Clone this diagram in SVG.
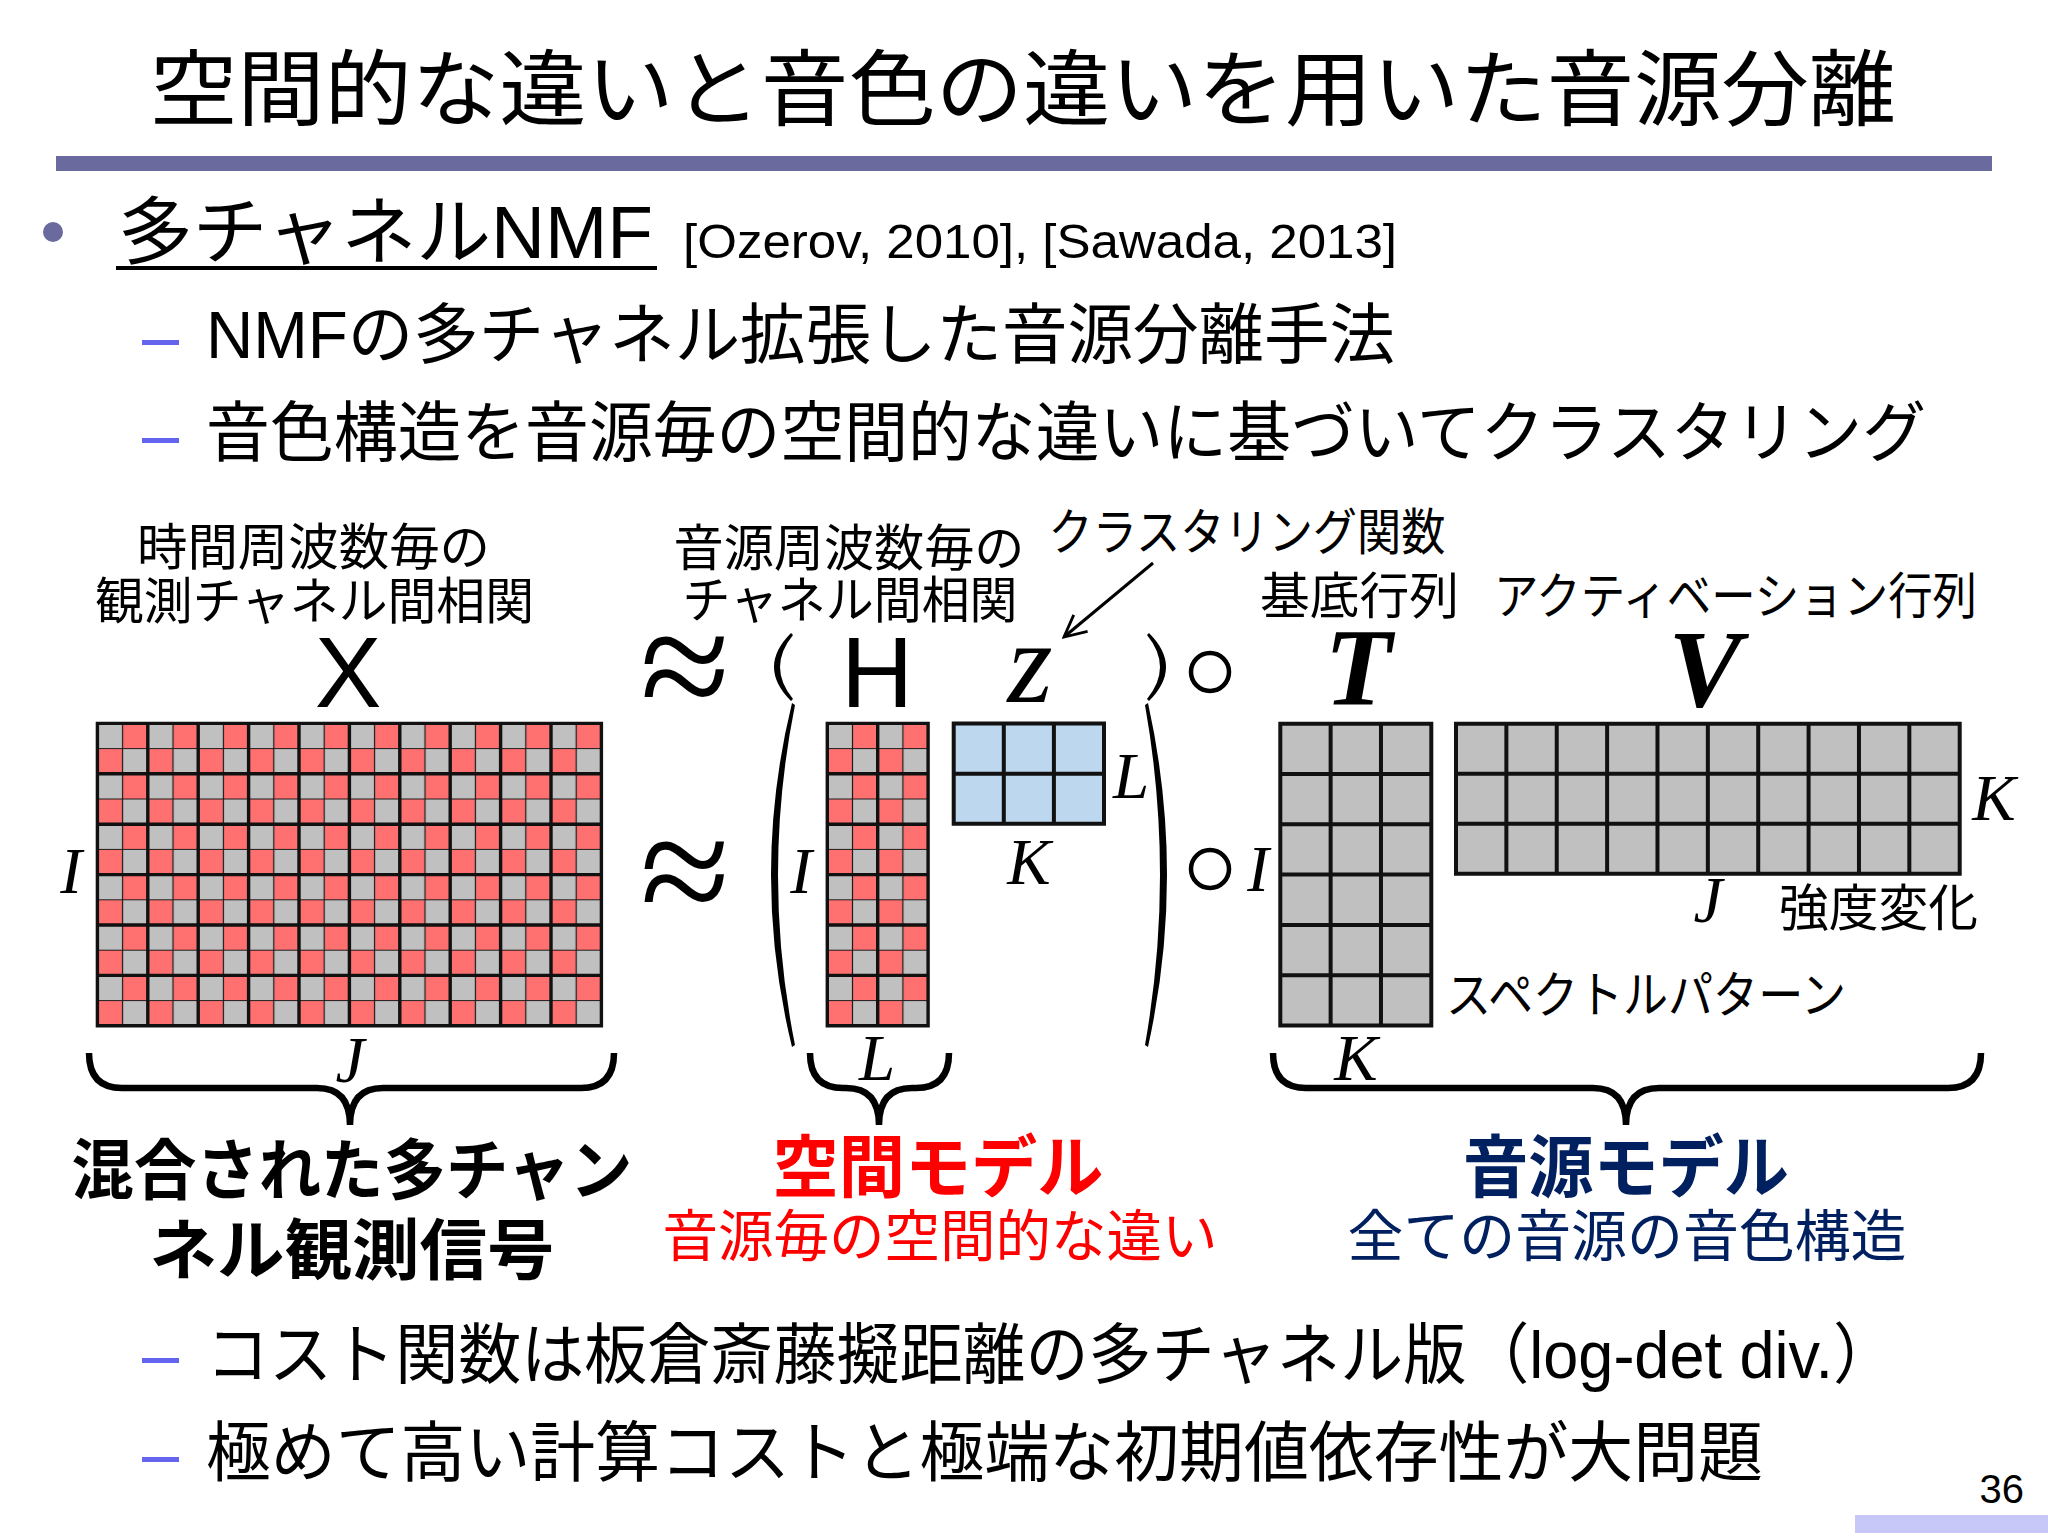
<svg xmlns="http://www.w3.org/2000/svg" width="2048" height="1536" viewBox="0 0 2048 1536">
<style>
.jp{font-family:"Noto Sans CJK JP",sans-serif;fill:#000}
.mix{font-family:"Liberation Sans","Noto Sans CJK JP",sans-serif;fill:#000}
.lbl{font-family:"Noto Sans CJK JP",sans-serif;font-size:50px;fill:#000}
.math{font-family:"Liberation Serif",serif;font-style:italic;font-size:65px;fill:#000}
.bigm{font-family:"Liberation Serif",serif;font-style:italic;font-weight:bold;font-size:110px;fill:#000}
.bigs{font-family:"Liberation Sans",sans-serif;font-size:100px;fill:#000}
.dash{fill:#6464ee}
.thick{fill:none;stroke:#111;stroke-width:3.4;stroke-linecap:square}
.grid{fill:none;stroke:#111;stroke-width:4;stroke-linecap:square}
.brace{fill:none;stroke:#000;stroke-width:6.5}
.paren{fill:#000}
</style>
<defs>
<pattern id="chk" width="50.4" height="50.4" patternUnits="userSpaceOnUse">
<rect width="50.4" height="50.4" fill="#ff7070"/>
<rect width="25.2" height="25.2" fill="#c0c0c0"/>
<rect x="25.2" y="25.2" width="25.2" height="25.2" fill="#c0c0c0"/>
<path d="M25.2,0V50.4M0,25.2H50.4" stroke="#1a1a1a" stroke-width="1.2"/>
</pattern>
<marker id="arrow" viewBox="0 0 12 12" refX="11" refY="6" markerWidth="26" markerHeight="26" markerUnits="userSpaceOnUse" orient="auto">
<path d="M1,1 L11,6 L1,11" fill="none" stroke="#000" stroke-width="1.3"/>
</marker>
</defs>
<rect width="2048" height="1536" fill="#fff"/>

<g id="title">
<text class="jp" x="150" y="119" font-size="83" textLength="1746" lengthAdjust="spacingAndGlyphs">空間的な違いと音色の違いを用いた音源分離</text>
<rect x="56" y="156" width="1936" height="15" fill="#6a6a9e"/>
</g>

<g id="bullets">
<circle cx="53" cy="232" r="10" fill="#6a6a9e"/>
<text class="mix" x="118" y="258" font-size="74" textLength="535" lengthAdjust="spacingAndGlyphs">多チャネルNMF</text>
<rect x="116" y="266" width="541" height="4" fill="#000"/>
<text class="mix" x="683" y="258" font-size="48" textLength="714" lengthAdjust="spacingAndGlyphs">[Ozerov, 2010], [Sawada, 2013]</text>
<rect class="dash" x="142" y="340" width="37" height="5"/>
<text class="mix" x="206" y="358" font-size="66" textLength="1189" lengthAdjust="spacingAndGlyphs">NMFの多チャネル拡張した音源分離手法</text>
<rect class="dash" x="142" y="438" width="37" height="5"/>
<text class="jp" x="206" y="456" font-size="66" textLength="1720" lengthAdjust="spacingAndGlyphs">音色構造を音源毎の空間的な違いに基づいてクラスタリング</text>
<rect class="dash" x="142" y="1358" width="37" height="5"/>
<text class="mix" x="206" y="1378" font-size="66" textLength="1690" lengthAdjust="spacingAndGlyphs">コスト関数は板倉斎藤擬距離の多チャネル版（log-det div.）</text>
<rect class="dash" x="142" y="1457" width="37" height="5"/>
<text class="jp" x="206" y="1476" font-size="66" textLength="1557" lengthAdjust="spacingAndGlyphs">極めて高い計算コストと極端な初期値依存性が大問題</text>
</g>

<g id="node-X">
<text class="lbl" x="313.5" y="565" text-anchor="middle" textLength="353" lengthAdjust="spacingAndGlyphs">時間周波数毎の</text>
<text class="lbl" x="314.5" y="619" text-anchor="middle" textLength="439" lengthAdjust="spacingAndGlyphs">観測チャネル間相関</text>
<text class="bigs" x="348" y="707" text-anchor="middle">X</text>
<g transform="translate(97.4,723.4)">
<rect width="504" height="302.4" fill="url(#chk)"/>
<path class="thick" d="M0,0V302.4M50.4,0V302.4M100.8,0V302.4M151.2,0V302.4M201.6,0V302.4M252,0V302.4M302.4,0V302.4M352.8,0V302.4M403.2,0V302.4M453.6,0V302.4M504,0V302.4M0,0H504M0,50.4H504M0,100.8H504M0,151.2H504M0,201.6H504M0,252H504M0,302.4H504"/>
</g>
<text class="math" x="71" y="893" text-anchor="middle">I</text>
<text class="math" x="350" y="1082" text-anchor="middle">J</text>
</g>

<g id="node-H">
<text class="lbl" x="849" y="566" text-anchor="middle" textLength="351" lengthAdjust="spacingAndGlyphs">音源周波数毎の</text>
<text class="lbl" x="850" y="618" text-anchor="middle" textLength="335" lengthAdjust="spacingAndGlyphs">チャネル間相関</text>
<text class="bigs" x="877" y="707" text-anchor="middle">H</text>
<g transform="translate(827.3,723.4)">
<rect width="100.8" height="302.4" fill="url(#chk)"/>
<path class="thick" d="M0,0V302.4M50.4,0V302.4M100.8,0V302.4M0,0H100.8M0,50.4H100.8M0,100.8H100.8M0,151.2H100.8M0,201.6H100.8M0,252H100.8M0,302.4H100.8"/>
</g>
<text class="math" x="801" y="893" text-anchor="middle">I</text>
<text class="math" x="877" y="1080" text-anchor="middle">L</text>
</g>

<g id="node-z">
<text class="lbl" x="1247" y="550" text-anchor="middle" font-size="46" textLength="397" lengthAdjust="spacingAndGlyphs">クラスタリング関数</text>
<text x="1030" y="702" text-anchor="middle" font-family="Liberation Serif, serif" font-style="italic" font-size="116">z</text>
<g transform="translate(953.7,723.5)">
<rect width="150.3" height="100.3" fill="#bdd7ee"/>
<path class="grid" d="M0,0V100.3M50.1,0V100.3M100.2,0V100.3M150.3,0V100.3M0,0H150.3M0,50.15H150.3M0,100.3H150.3"/>
</g>
<text class="math" x="1131" y="798" text-anchor="middle">L</text>
<text class="math" x="1029" y="884" text-anchor="middle">K</text>
</g>

<g id="operators">
<text x="685" y="721" text-anchor="middle" font-family="Liberation Serif, serif" font-size="164">≈</text>
<text x="685" y="926" text-anchor="middle" font-family="Liberation Serif, serif" font-size="164">≈</text>
<path class="paren" d="M791,633 Q757,667 791,701 L793,699 Q767,667 793,635 Z"/>
<path class="paren" d="M792,703 Q750,875 792,1047 L795,1045 Q761,875 795,705 Z"/>
<path class="paren" d="M1149,633 Q1183,667 1149,701 L1147,699 Q1173,667 1147,635 Z"/>
<path class="paren" d="M1148,703 Q1186,875 1148,1047 L1145,1045 Q1175,875 1145,705 Z"/>
<circle cx="1210" cy="672" r="19" fill="none" stroke="#000" stroke-width="4.5"/>
<circle cx="1210" cy="869" r="19" fill="none" stroke="#000" stroke-width="4.5"/>
<text class="math" x="1258" y="891" text-anchor="middle">I</text>
</g>

<g id="node-T">
<text class="lbl" x="1359.5" y="614" text-anchor="middle" textLength="199" lengthAdjust="spacingAndGlyphs">基底行列</text>
<text class="bigm" x="1358" y="705" text-anchor="middle">T</text>
<g transform="translate(1280.3,723.7)">
<rect width="151" height="301.8" fill="#c0c0c0"/>
<path class="grid" d="M0,0V301.8M50.33,0V301.8M100.67,0V301.8M151,0V301.8M0,0H151M0,50.3H151M0,100.6H151M0,150.9H151M0,201.2H151M0,251.5H151M0,301.8H151"/>
</g>
<text class="math" x="1356" y="1080" text-anchor="middle">K</text>
<text class="lbl" x="1446" y="1013" textLength="400" lengthAdjust="spacingAndGlyphs">スペクトルパターン</text>
</g>

<g id="node-V">
<text class="lbl" x="1735.5" y="614" text-anchor="middle" textLength="483" lengthAdjust="spacingAndGlyphs">アクティベーション行列</text>
<text class="bigm" x="1705" y="706" text-anchor="middle">V</text>
<g transform="translate(1456,723.7)">
<rect width="503.7" height="150" fill="#c0c0c0"/>
<path class="grid" d="M0,0V150M50.37,0V150M100.74,0V150M151.11,0V150M201.48,0V150M251.85,0V150M302.22,0V150M352.59,0V150M402.96,0V150M453.33,0V150M503.7,0V150M0,0H503.7M0,50H503.7M0,100H503.7M0,150H503.7"/>
</g>
<text class="math" x="1994" y="820" text-anchor="middle">K</text>
<text class="math" x="1708" y="922" text-anchor="middle">J</text>
<text class="lbl" x="1878.5" y="926" text-anchor="middle" textLength="199" lengthAdjust="spacingAndGlyphs">強度変化</text>
</g>

<g id="connectors">
<line x1="1153" y1="563" x2="1064" y2="637" stroke="#000" stroke-width="3" marker-end="url(#arrow)"/>
<path class="brace" d="M89,1053 Q89,1088 122,1088 H317 Q350,1088 350,1125 Q350,1088 383,1088 H581 Q614,1088 614,1053"/>
<path class="brace" d="M810,1053 Q810,1088 843,1088 H846 Q879,1088 879,1125 Q879,1088 912,1088 H916 Q949,1088 949,1053"/>
<path class="brace" d="M1273,1053 Q1273,1088 1306,1088 H1593 Q1626,1088 1626,1125 Q1626,1088 1659,1088 H1948 Q1981,1088 1981,1053"/>
</g>

<g id="node-mixture">
<text class="jp" x="352" y="1194" text-anchor="middle" font-size="66" font-weight="bold" textLength="561" lengthAdjust="spacingAndGlyphs">混合された多チャン</text>
<text class="jp" x="352" y="1274" text-anchor="middle" font-size="66" font-weight="bold" textLength="405" lengthAdjust="spacingAndGlyphs">ネル観測信号</text>
</g>
<g id="node-spatial">
<text x="938" y="1192" text-anchor="middle" font-family="Noto Sans CJK JP, sans-serif" font-size="68" font-weight="bold" fill="#ff0000" textLength="331" lengthAdjust="spacingAndGlyphs">空間モデル</text>
<text x="940" y="1256" text-anchor="middle" font-family="Noto Sans CJK JP, sans-serif" font-size="56" fill="#ff0000" textLength="555" lengthAdjust="spacingAndGlyphs">音源毎の空間的な違い</text>
</g>
<g id="node-source">
<text x="1626" y="1192" text-anchor="middle" font-family="Noto Sans CJK JP, sans-serif" font-size="68" font-weight="bold" fill="#002060" textLength="326" lengthAdjust="spacingAndGlyphs">音源モデル</text>
<text x="1627" y="1256" text-anchor="middle" font-family="Noto Sans CJK JP, sans-serif" font-size="56" fill="#002060" textLength="559" lengthAdjust="spacingAndGlyphs">全ての音源の音色構造</text>
</g>

<g id="footer">
<text x="2024" y="1503" text-anchor="end" font-family="Liberation Sans, sans-serif" font-size="40" fill="#000">36</text>
<rect x="1855" y="1515" width="193" height="18" fill="#c8c8f8"/>
</g>
</svg>
